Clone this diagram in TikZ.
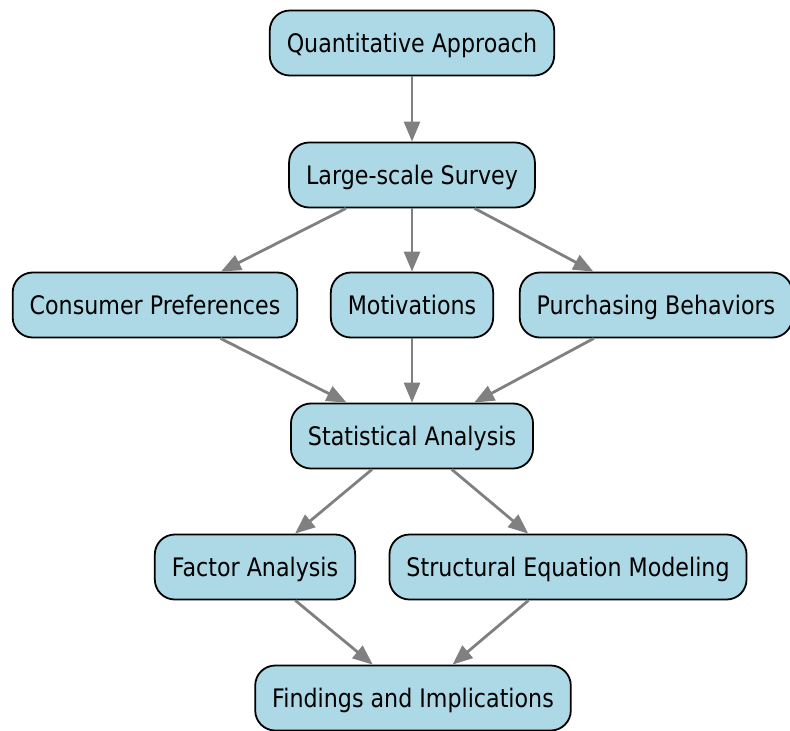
\documentclass[tikz,border=0pt]{standalone}
\usepackage{fontspec}
\newfontfamily\boxfont[FakeStretch=0.87]{DejaVu Sans}
\usetikzlibrary{arrows.meta}

\definecolor{boxblue}{HTML}{ADD8E6}
\definecolor{linkgray}{HTML}{808080}

\tikzset{
	stepbox/.style={draw=black, line width=1.8pt, fill=boxblue, rounded corners=20pt,
		minimum height=65pt, inner xsep=17pt, text height=19pt, text depth=1pt,
		font=\boxfont\fontsize{25.5}{30}\selectfont},
	link/.style={draw=linkgray, line width=2.8pt, -{Triangle[length=20pt,width=16pt]}}
}

\begin{document}
\begin{tikzpicture}[x=1pt, y=-1pt]
\useasboundingbox (0,0) rectangle (790,731);

\node[stepbox] (qa) at (412,43) {Quantitative Approach};
\node[stepbox] (survey) at (412,175) {Large-scale Survey};

\node[stepbox] (prefs) at (155,305) {Consumer Preferences};
\node[stepbox] (motiv) at (412,305) {Motivations};
\node[stepbox] (purch) at (656,305) {Purchasing Behaviors};

\node[stepbox] (stats) at (412,436) {Statistical Analysis};

\node[stepbox] (factor) at (255,567) {Factor Analysis};
\node[stepbox] (sem) at (568,567) {Structural Equation Modeling};

\node[stepbox] (findings) at (413,698) {Findings and Implications};

\draw[link] (qa) -- (survey);

\foreach \n in {prefs,motiv,purch} {
	\draw[link] (survey) -- (\n);
	\draw[link] (\n) -- (stats);
}

\foreach \n in {factor,sem} {
	\draw[link] (stats) -- (\n);
	\draw[link] (\n) -- (findings);
}
\end{tikzpicture}
\end{document}
